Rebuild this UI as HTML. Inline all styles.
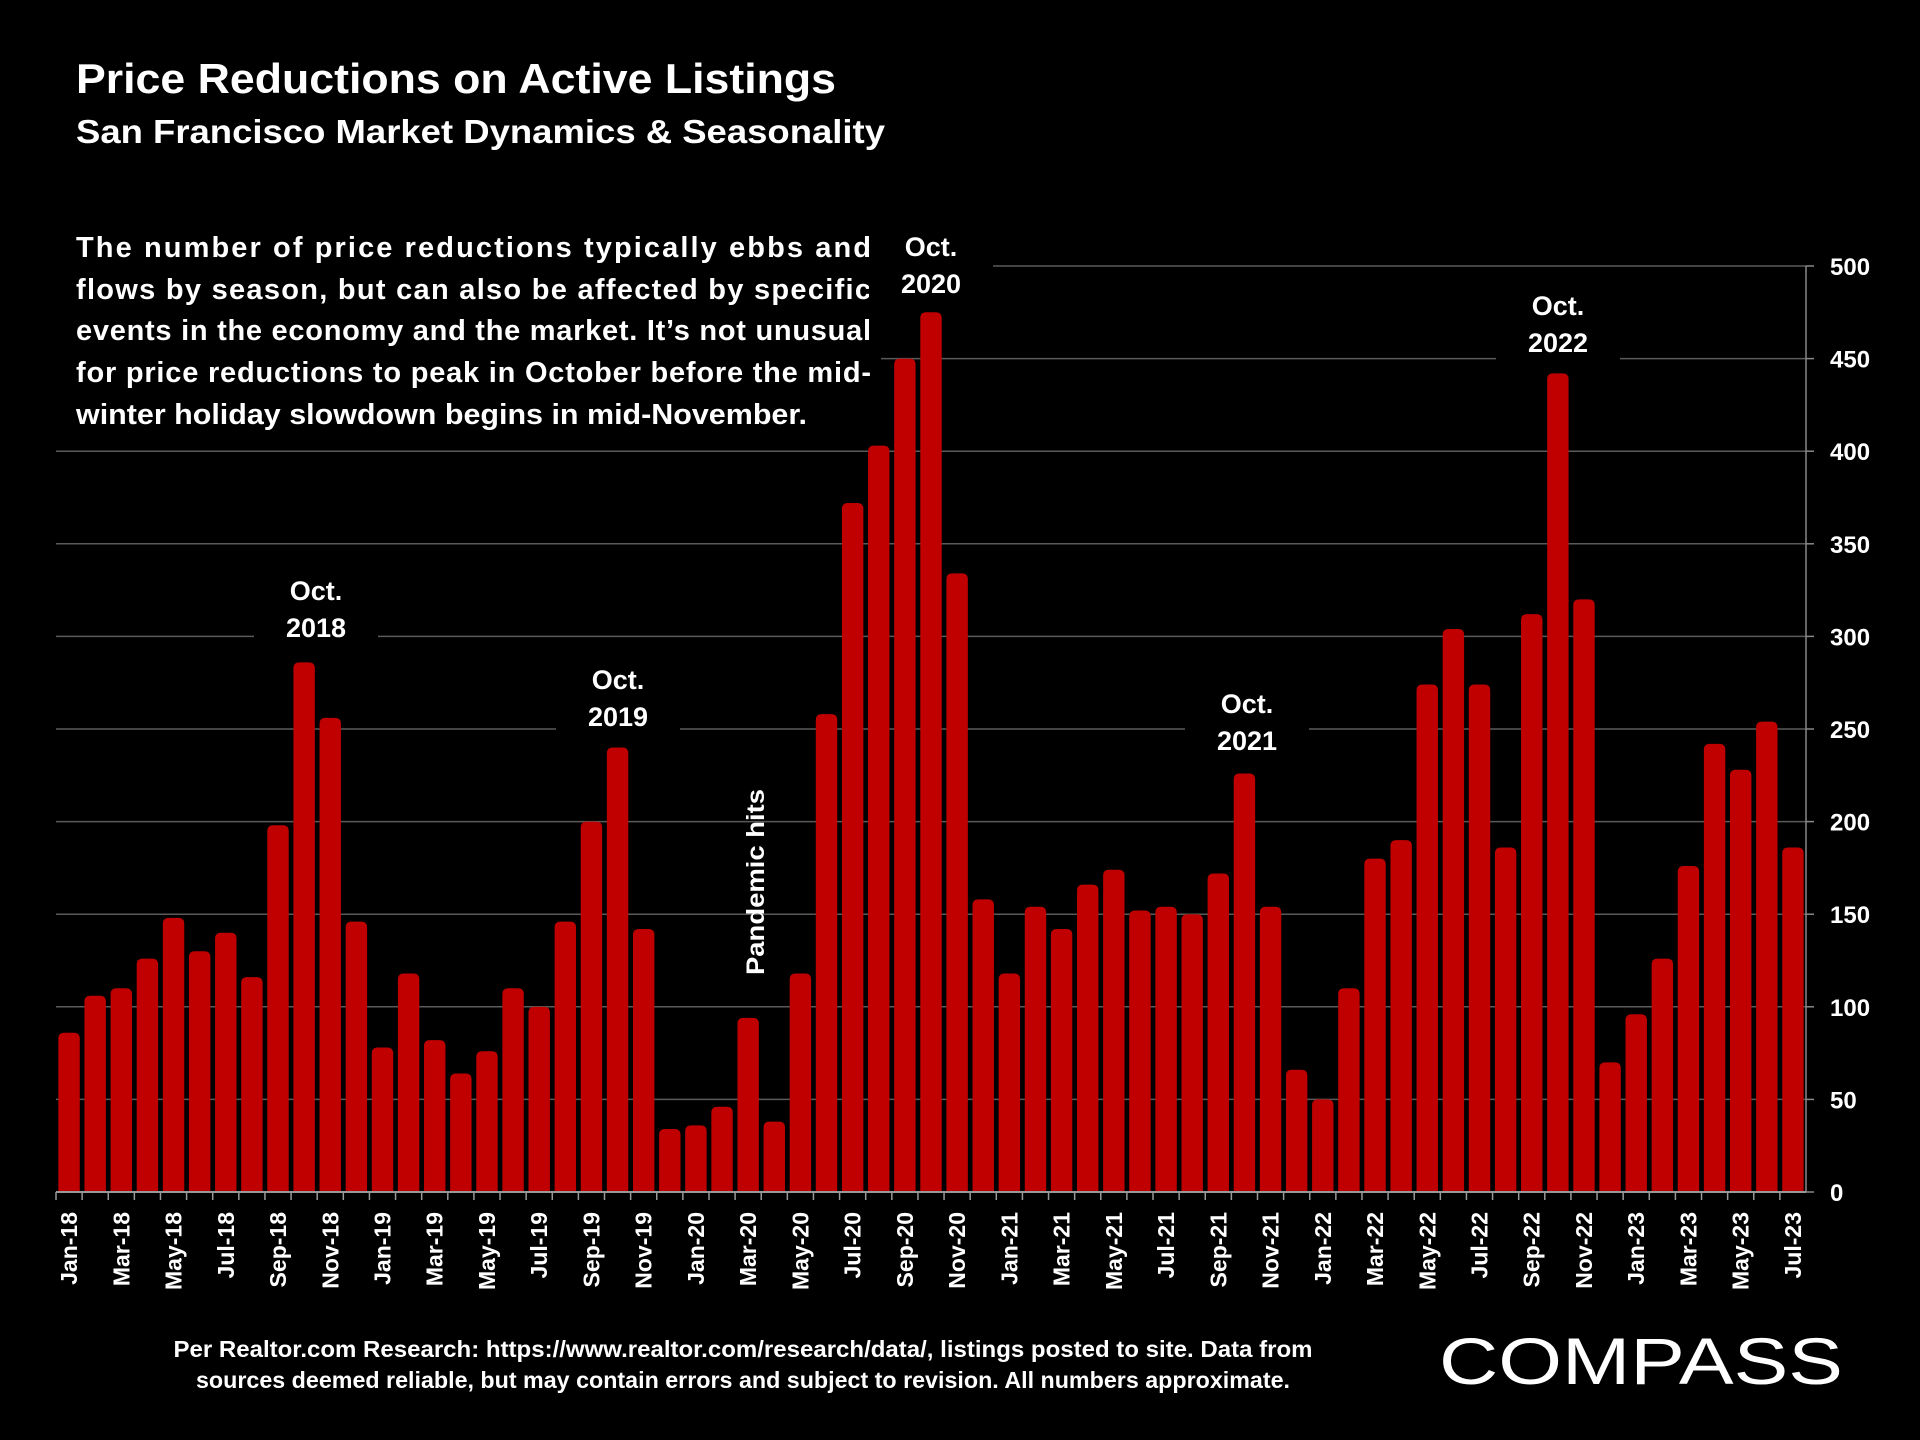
<!DOCTYPE html>
<html><head><meta charset="utf-8"><style>
html,body{margin:0;padding:0;background:#000;}
svg{display:block;font-family:"Liberation Sans",sans-serif;font-weight:bold;}
</style></head><body>
<svg id="chart" width="1920" height="1440" viewBox="0 0 1920 1440" xmlns="http://www.w3.org/2000/svg">
<rect width="1920" height="1440" fill="#000"/>
<g id="grid"></g>
<g id="bars"></g>
<g id="axes"></g>
<text x="76" y="93" fill="#fff" font-size="42" textLength="760" lengthAdjust="spacingAndGlyphs">Price Reductions on Active Listings</text>
<text x="76" y="143" fill="#fff" font-size="33" textLength="809" lengthAdjust="spacingAndGlyphs">San Francisco Market Dynamics &amp; Seasonality</text>
<g fill="#fff" font-size="29">
<rect x="50" y="222" width="831" height="215" fill="#000"/>
<text x="76" y="257" textLength="795" lengthAdjust="spacing">The number of price reductions typically ebbs and</text>
<text x="76" y="299" textLength="795" lengthAdjust="spacing">flows by season, but can also be affected by specific</text>
<text x="76" y="340" textLength="795" lengthAdjust="spacing">events in the economy and the market. It’s not unusual</text>
<text x="76" y="382" textLength="795" lengthAdjust="spacing">for price reductions to peak in October before the mid-</text>
<text x="76" y="424" textLength="731" lengthAdjust="spacingAndGlyphs">winter holiday slowdown begins in mid-November.</text>
</g>
<g id="annots" fill="#fff" font-size="27" text-anchor="middle"></g>
<text transform="translate(764,882) rotate(-90)" fill="#fff" font-size="25" text-anchor="middle" textLength="186" lengthAdjust="spacingAndGlyphs">Pandemic hits</text>
<g fill="#fff" font-size="23" text-anchor="middle">
<text x="743" y="1357" textLength="1139" lengthAdjust="spacingAndGlyphs">Per Realtor.com Research:  https://www.realtor.com/research/data/, listings posted to site. Data from</text>
<text x="743" y="1388" textLength="1094" lengthAdjust="spacingAndGlyphs">sources deemed reliable, but may contain errors and subject to revision. All numbers approximate.</text>
</g>
<g>
<text x="1439" y="1384" fill="#fff" font-size="66" font-weight="normal" textLength="404" lengthAdjust="spacingAndGlyphs">COMPASS</text>
</g>
</svg>
<script>
const months=["Jan","Feb","Mar","Apr","May","Jun","Jul","Aug","Sep","Oct","Nov","Dec"];
const categories=[];
for(let y=18;y<=23;y++){for(let m=0;m<12;m++){if(y===23&&m>6)break;categories.push(months[m]+"-"+y);}}
const values=[86,106,110,126,148,130,140,116,198,286,256,146,
78,118,82,64,76,110,100,146,200,240,142,34,
36,46,94,38,118,258,372,403,450,475,334,158,
118,154,142,166,174,152,154,150,172,226,154,66,
50,110,180,190,274,304,274,186,312,442,320,70,
96,126,176,242,228,254,186];
const yTicks=[0,50,100,150,200,250,300,350,400,450,500];
const annotations=[["Oct.","2018",9,316,600],["Oct.","2019",21,618,689],["Oct.","2020",33,931,256],["Oct.","2021",45,1247,713],["Oct.","2022",57,1558,315]];

const NS="http://www.w3.org/2000/svg";
const X0=56,X1=1806,Y0=1192,YTOP=266,YMAX=500;
const slot=(X1-X0)/categories.length;
const xC=i=>X0+slot*(i+0.5);
const yS=v=>Y0-(v/YMAX)*(Y0-YTOP);
function mk(t,a,p){const e=document.createElementNS(NS,t);for(const k in a)e.setAttribute(k,a[k]);p.appendChild(e);return e;}
const grid=document.getElementById('grid'),bars=document.getElementById('bars'),axes=document.getElementById('axes'),ann=document.getElementById('annots');
yTicks.forEach(v=>{
  if(v>0){const l=mk('line',{x1:X0,x2:X1,y1:yS(v),y2:yS(v),stroke:'#5a5a5a','stroke-width':1.5},grid);
  
  }
  const tk=mk('line',{x1:X1,x2:X1+8,y1:yS(v),y2:yS(v),stroke:'#888','stroke-width':1.5},axes);
  const t=mk('text',{x:1830,y:yS(v)+9,fill:'#fff','font-size':24},axes);
  t.textContent=v;
  
  
});
mk('line',{x1:X1,x2:X1,y1:YTOP,y2:Y0,stroke:'#888','stroke-width':1.5},axes);
const bw=slot*0.82;
values.forEach((v,i)=>{
  const y=yS(v),h=Y0-y,r=Math.min(6,h/2);
  const x=xC(i)-bw/2;
  const p=mk('path',{d:`M${x},${Y0}V${y+r}Q${x},${y} ${x+r},${y}H${x+bw-r}Q${x+bw},${y} ${x+bw},${y+r}V${Y0}Z`,fill:'#c00000'},bars);
  
  
});
mk('line',{x1:X0,x2:X1,y1:Y0,y2:Y0,stroke:'#999','stroke-width':2},axes);
categories.forEach((c,i)=>{
  mk('line',{x1:X0+slot*i,x2:X0+slot*i,y1:Y0,y2:Y0+8,stroke:'#999','stroke-width':1.5},axes);
  if(i%2===0){
    const t=mk('text',{transform:`translate(${xC(i)+8},1212) rotate(-90)`,fill:'#fff','font-size':23,'text-anchor':'end'},axes);
    t.textContent=c;
    
    
  }
});
annotations.forEach(a=>{
  const g=mk('g',{},ann);
  
  
  mk('rect',{x:a[3]-62,y:a[4]-30,width:124,height:76,fill:'#000'},g);
  const t1=mk('text',{x:a[3],y:a[4]},g);t1.textContent=a[0];
  const t2=mk('text',{x:a[3],y:a[4]+37},g);t2.textContent=a[1];
});
</script>
</body></html>
